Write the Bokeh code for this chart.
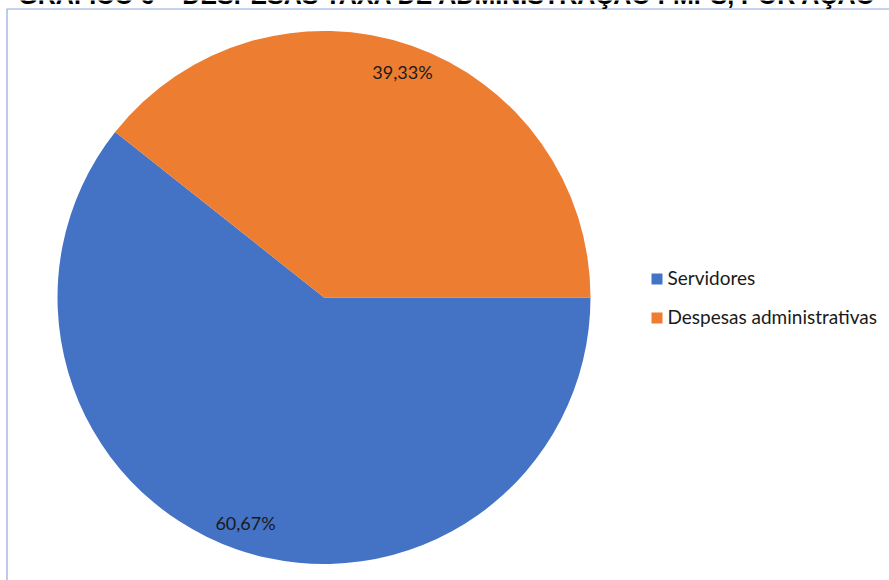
import math

from bokeh.core.properties import value
from bokeh.embed import file_html
from bokeh.models import Range1d
from bokeh.plotting import figure
from bokeh.resources import INLINE

# Data
categories = ["Servidores", "Despesas administrativas"]
shares = [60.67, 39.33]
colors = ["#4472C4", "#ED7D31"]
title_text = "GRÁFICO 6 – DESPESAS TAXA DE ADMINISTRAÇÃO FMPS, POR AÇÃO"

W, H = 889, 580
p = figure(width=W, height=H, output_backend="svg", toolbar_location=None,
           x_axis_type=None, y_axis_type=None, min_border=0,
           x_range=Range1d(0, W), y_range=Range1d(0, H))
p.grid.visible = False
p.outline_line_color = None
p.background_fill_color = "white"
p.border_fill_color = "white"

# Chart area border (runs past the right and bottom edges)
p.line(x=[6.5, 6.5, W + 10], y=[-10, H - 8.5, H - 8.5], line_color="#8EA9DB", line_width=1.2)

# Title (clipped at the top of the page)
p.text(x=[W / 2 + 3], y=[H + 6], text=[title_text], text_align="center",
       text_baseline="alphabetic", text_font=value("Liberation Sans"),
       text_font_style="bold", text_font_size="25px", text_color="black")

# Pie, starting at 3 o'clock and running clockwise
cx, cy, r = 323.5, H - 297, 266.5
total = sum(shares)
cum = 0.0
starts, ends, lx, ly, labels = [], [], [], [], []
for v in shares:
    a0 = -2 * math.pi * cum / total
    cum += v
    a1 = -2 * math.pi * cum / total
    starts.append(a0)
    ends.append(a1)
    mid = (a0 + a1) / 2
    lx.append(cx + 0.895 * r * math.cos(mid))
    ly.append(cy + 0.895 * r * math.sin(mid))
    labels.append(f"{v:.2f}".replace(".", ",") + "%")

p.wedge(x=cx, y=cy, radius=r, start_angle=starts, end_angle=ends,
        direction="clock", fill_color=colors, line_color=None)

p.text(x=lx, y=ly, text=labels, text_align="center", text_baseline="middle",
       text_font=value("Lato"), text_font_size="18px", text_color="#1a1a1a")

# Legend
leg_x, leg_y0, leg_dy = 656.5, H - 278.5, 39
for i, (name, col) in enumerate(zip(categories, colors)):
    yy = leg_y0 - i * leg_dy
    p.rect(x=[leg_x], y=[yy], width=11, height=11, fill_color=col, line_color=None)
    p.text(x=[667], y=[yy + 1.5], text=[name], text_align="left", text_baseline="middle",
           text_font=value("Lato"), text_font_size="19px", text_color="#1a1a1a")

open("out.html", "w").write(file_html(p, INLINE))
